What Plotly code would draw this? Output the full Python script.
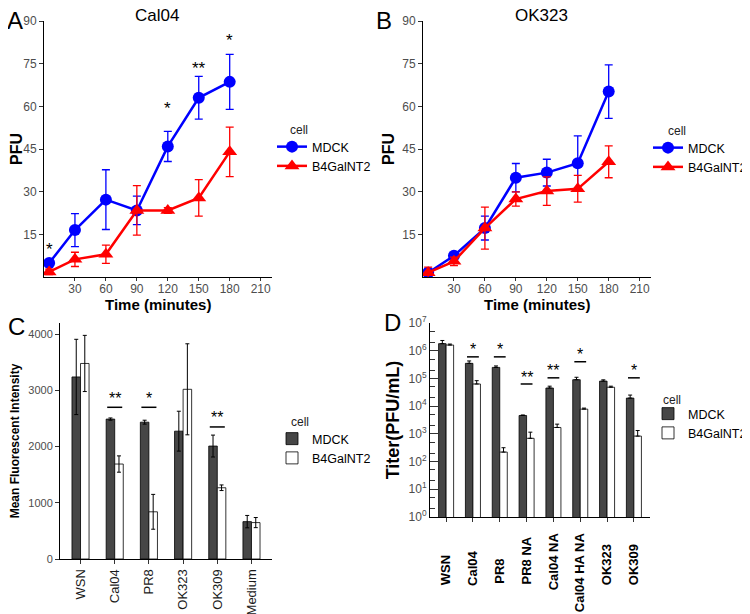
import numpy as np
import plotly.graph_objects as go

# panel A / B : growth curves (PFU vs time)
time = [5, 30, 60, 90, 120, 150, 180]

cal04_mdck = [4.9, 16.5, 27.2, 23.4, 45.9, 63.0, 68.6]
cal04_mdck_err = [0.8, 5.8, 10.5, 5.0, 5.3, 7.5, 9.7]
cal04_b4 = [1.8, 6.2, 8.0, 23.4, 23.4, 27.8, 44.0]
cal04_b4_err = [1.0, 2.5, 3.2, 8.7, 1.0, 6.4, 8.7]
cal04_stars = ["*", "", "", "", "*", "**", "*"]
cal04_star_y = [9.5, None, None, None, 59.3, 73.4, 83.3]

ok323_mdck = [1.5, 7.5, 17.2, 34.9, 36.7, 40.0, 65.2]
ok323_mdck_err = [1.5, 1.0, 4.2, 5.0, 4.7, 9.6, 9.4]
ok323_b4 = [1.5, 5.5, 17.2, 27.4, 30.2, 31.0, 40.5]
ok323_b4_err = [2.0, 1.5, 7.4, 2.5, 5.0, 4.7, 5.6]

# panel C : mean fluorescent intensity
mfi_strains = ["WSN", "Cal04", "PR8", "OK323", "OK309", "Medium"]
mfi_mdck = [3240, 2490, 2435, 2275, 2010, 665]
mfi_mdck_err = [670, 20, 35, 355, 195, 110]
mfi_b4 = [3480, 1690, 840, 3020, 1268, 648]
mfi_b4_err = [500, 145, 310, 810, 50, 90]
mfi_sig = ["", "**", "*", "", "**", ""]
mfi_sig_line = [None, 2700, 2700, None, 2350, None]

# panel D : titers
titer_strains = ["WSN", "Cal04", "PR8", "PR8 NA", "Cal04 NA", "Cal04 HA NA", "OK323", "OK309"]
titer_mdck = [1.8e6, 3.5e5, 2.5e5, 4.6e3, 4.5e4, 9.0e4, 8.0e4, 1.95e4]
titer_mdck_err = [5.4e5, 7.7e4, 3.2e4, 2.0e2, 7.5e3, 2.0e4, 9.0e3, 5.6e3]
titer_b4 = [1.6e6, 6.3e4, 220, 690, 1.7e3, 7.8e3, 4.8e4, 830]
titer_b4_err = [1.4e5, 2.0e4, 96, 460, 540, 700, 4.5e3, 490]
titer_sig = ["", "*", "*", "**", "**", "*", "", "*"]
titer_sig_line = [None, 6.0e5, 6.0e5, 6.3e4, 1.05e5, 4.0e5, None, 1.05e5]

FONT = "Liberation Sans, Arial, sans-serif"
TICKGRAY = "#4D4D4D"
BLUE = "#0000FF"
RED = "#FF0000"
DARK = "#464646"

# the page body adds an 8px margin, so place things relative to that
OFF = 8
W, H = 750, 614


def X(px):
    return (px - OFF) / W


def Y(py):
    return 1 - (py - OFF) / H


# rough Arial-bold advance widths (em) -- used to bottom-align the panel D labels
BOLD_W = {"W": .944, "S": .667, "N": .722, "C": .722, "a": .556, "l": .278, "P": .667,
          "R": .722, "A": .722, "H": .722, "O": .778, "K": .722, " ": .278}


def pad_label(s, size=13, box=52):
    w = sum(BOLD_W.get(c, .556) for c in s) * size
    n = int(round(max(0, box - w) / (.278 * size)))
    return s + "\u00a0" * n


fig = go.Figure()


def growth_traces(mdck, mdck_err, b4, b4_err, xa, ya, leg):
    fig.add_trace(go.Scatter(
        x=time, y=mdck, name="MDCK", mode="lines+markers",
        line=dict(color=BLUE, width=2.5),
        marker=dict(symbol="circle", size=12, color=BLUE),
        error_y=dict(type="data", array=mdck_err, color=BLUE, thickness=1.3, width=4),
        xaxis=xa, yaxis=ya, legend=leg))
    fig.add_trace(go.Scatter(
        x=time, y=b4, name="B4GalNT2", mode="lines+markers",
        line=dict(color=RED, width=2.5),
        marker=dict(symbol="triangle-up", size=13, color=RED),
        error_y=dict(type="data", array=b4_err, color=RED, thickness=1.3, width=4),
        xaxis=xa, yaxis=ya, legend=leg))


growth_traces(cal04_mdck, cal04_mdck_err, cal04_b4, cal04_b4_err, "x", "y", "legend")
growth_traces(ok323_mdck, ok323_mdck_err, ok323_b4, ok323_b4_err, "x2", "y2", "legend2")

for t, s, y in zip(time, cal04_stars, cal04_star_y):
    if s:
        fig.add_annotation(x=t, y=y, text=s, xref="x", yref="y", showarrow=False,
                           font=dict(family=FONT, size=17, color="black"))


def bar_pair(cats, mdck, mdck_err, b4, b4_err, xa, ya, leg, w, up_only):
    pos = list(range(len(cats)))
    fig.add_trace(go.Bar(
        x=pos, y=mdck, name="MDCK", width=w, offset=-w,
        marker=dict(color=DARK, line=dict(color="black", width=0.8)),
        error_y=dict(type="data", array=mdck_err, symmetric=not up_only,
                     arrayminus=[0] * len(cats) if up_only else None,
                     color="black", thickness=1, width=2),
        xaxis=xa, yaxis=ya, legend=leg))
    fig.add_trace(go.Bar(
        x=pos, y=b4, name="B4GalNT2", width=w, offset=0,
        marker=dict(color="white", line=dict(color="black", width=0.8)),
        error_y=dict(type="data", array=b4_err, symmetric=not up_only,
                     arrayminus=[0] * len(cats) if up_only else None,
                     color="black", thickness=1, width=2),
        xaxis=xa, yaxis=ya, legend=leg))


bar_pair(mfi_strains, mfi_mdck, mfi_mdck_err, mfi_b4, mfi_b4_err, "x3", "y3", "legend3", 0.25, False)
bar_pair(titer_strains, titer_mdck, titer_mdck_err, titer_b4, titer_b4_err, "x4", "y4", "legend4", 0.28, True)

# significance bars + stars
for i, (s, ly) in enumerate(zip(mfi_sig, mfi_sig_line)):
    if s:
        fig.add_trace(go.Scatter(x=[i - 0.22, i + 0.22], y=[ly, ly], mode="lines",
                                 line=dict(color="black", width=1.5), showlegend=False,
                                 hoverinfo="skip", xaxis="x3", yaxis="y3"))
        fig.add_annotation(x=i, y=ly + 160, text=s, xref="x3", yref="y3", showarrow=False,
                           font=dict(family=FONT, size=16, color="black"))
for i, (s, ly) in enumerate(zip(titer_sig, titer_sig_line)):
    if s:
        fig.add_trace(go.Scatter(x=[i - 0.22, i + 0.22], y=[ly, ly], mode="lines",
                                 line=dict(color="black", width=1.5), showlegend=False,
                                 hoverinfo="skip", xaxis="x4", yaxis="y4"))
        fig.add_annotation(x=i, y=np.log10(ly) + 0.25, text=s, xref="x4", yref="y4",
                           showarrow=False, font=dict(family=FONT, size=16, color="black"))

# panel letters, titles, axis titles, legend titles
for txt, x, y in [("A", 15, 20), ("B", 384, 20), ("C", 16, 326), ("D", 392, 322)]:
    fig.add_annotation(x=X(x), y=Y(y), xref="paper", yref="paper", text=txt,
                       xanchor="center", yanchor="middle", showarrow=False,
                       font=dict(family=FONT, size=24, color="black"))
for txt, x, y in [("Cal04", 157, 15), ("OK323", 541, 15)]:
    fig.add_annotation(x=X(x), y=Y(y), xref="paper", yref="paper", text=txt,
                       xanchor="center", yanchor="middle", showarrow=False,
                       font=dict(family=FONT, size=17, color="black"))
for x in [158, 537]:
    fig.add_annotation(x=X(x), y=Y(304), xref="paper", yref="paper", text="Time (minutes)",
                       xanchor="center", yanchor="middle", showarrow=False,
                       font=dict(family=FONT, size=15, color="black", weight="bold"))
for x, y in [(288, 130), (666, 131), (289, 422), (661, 400)]:
    fig.add_annotation(x=X(x), y=Y(y), xref="paper", yref="paper", text="cell",
                       xanchor="left", yanchor="middle", showarrow=False,
                       font=dict(family=FONT, size=12, color="#222222"))

axis_common = dict(showline=True, linecolor="black", linewidth=1, showgrid=False,
                   zeroline=False, ticks="outside", ticklen=4, tickcolor="#333333",
                   automargin=False,
                   tickfont=dict(family=FONT, size=12, color=TICKGRAY))
bold15 = dict(family=FONT, size=15, color="black", weight="bold")

time_x = dict(axis_common, range=[0, 221], tickvals=[30, 60, 90, 120, 150, 180, 210],
              ticklen=3, ticklabelstandoff=-2)
pfu_y = dict(axis_common, range=[0, 90], tickvals=[15, 30, 45, 60, 75, 90],
             title=dict(text="PFU", font=dict(bold15, size=16), standoff=3))

fig.update_layout(
    width=W, height=H,
    margin=dict(l=0, r=0, t=0, b=0, pad=0, autoexpand=False),
    paper_bgcolor="white", plot_bgcolor="white",
    barmode="overlay", font=dict(family=FONT),
    xaxis=dict(time_x, domain=[X(44), X(272)], anchor="y"),
    yaxis=dict(pfu_y, domain=[Y(277), Y(21)], anchor="x"),
    xaxis2=dict(time_x, domain=[X(423), X(651)], anchor="y2"),
    yaxis2=dict(pfu_y, domain=[Y(277), Y(21)], anchor="x2"),
    xaxis3=dict(axis_common, domain=[X(60), X(272)], anchor="y3", range=[-0.6, 5.6],
                tickvals=list(range(len(mfi_strains))), ticktext=mfi_strains, tickangle=-90,
                tickfont=dict(family=FONT, size=13, color="#1a1a1a")),
    yaxis3=dict(axis_common, domain=[Y(559), Y(323)], anchor="x3",
                range=[0, 4200], tickvals=[0, 1000, 2000, 3000, 4000],
                tickfont=dict(family=FONT, size=11, color=TICKGRAY),
                title=dict(text="Mean Fluorescent Intensity", font=dict(bold15, size=12), standoff=6)),
    xaxis4=dict(axis_common, domain=[X(430), X(650)], anchor="y4", range=[-0.6, 7.6],
                tickvals=list(range(len(titer_strains))),
                ticktext=[pad_label(s) for s in titer_strains], tickangle=-90,
                ticklabelstandoff=6,
                tickfont=dict(family=FONT, size=13, color="black", weight="bold")),
    yaxis4=dict(axis_common, domain=[Y(517), Y(323)], anchor="x4",
                type="log", range=[0, 7], ticks="inside", ticklen=9,
                tickvals=[10 ** k for k in range(8)],
                ticktext=["10<sup>%d</sup>" % k for k in range(8)],
                tickfont=dict(family=FONT, size=12, color=TICKGRAY),
                minor=dict(ticks="inside", ticklen=5, tickcolor="#333333", showgrid=False),
                title=dict(text="Titer(PFU/mL)", font=dict(bold15, size=18), standoff=4)),
)

leg_common = dict(xanchor="left", yanchor="top", bgcolor="rgba(0,0,0,0)",
                  font=dict(family=FONT, size=12.5, color="black"),
                  itemwidth=30, tracegroupgap=0)
fig.update_layout(
    legend=dict(leg_common, x=X(272), y=Y(132)),
    legend2=dict(leg_common, x=X(648), y=Y(133)),
    legend3=dict(leg_common, x=X(272), y=Y(424)),
    legend4=dict(leg_common, x=X(648), y=Y(399)),
)

fig.write_html("out.html")
